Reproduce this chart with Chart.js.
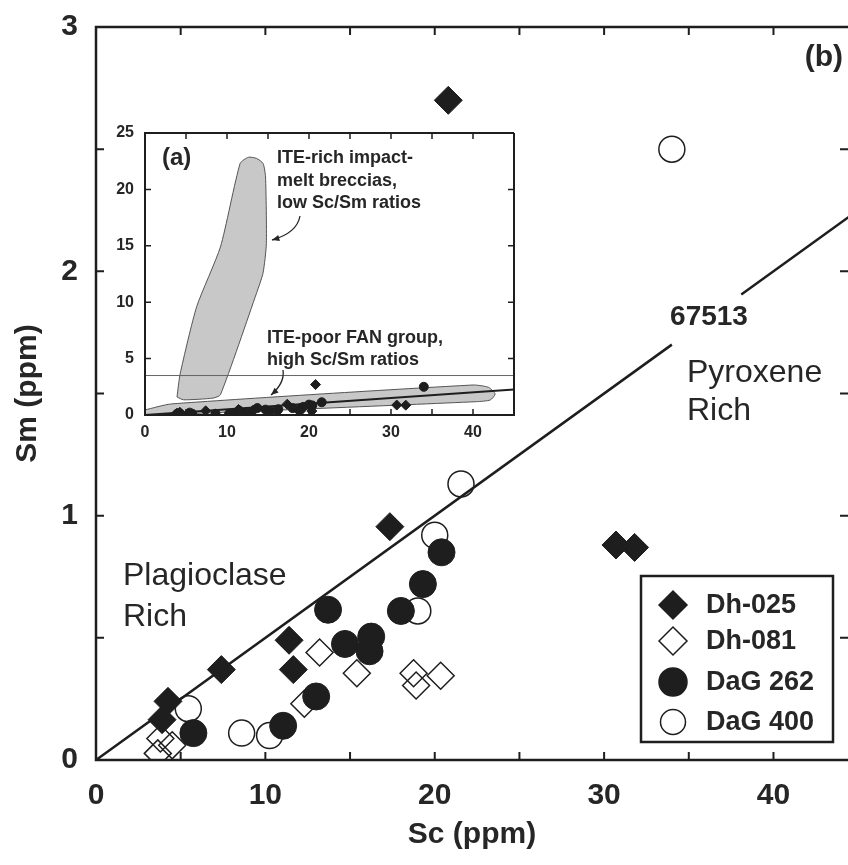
<!DOCTYPE html>
<html>
<head>
<meta charset="utf-8">
<script src="https://cdn.jsdelivr.net/npm/chart.js@4.4.1/dist/chart.umd.min.js"></script>
<style>
  html, body { margin: 0; padding: 0; background: #fff; }
  #wrap { position: relative; width: 848px; height: 865px; overflow: hidden; }
  #mainChart { position: absolute; left: 0; top: 0; }
  #insetChart { position: absolute; left: 106px; top: 120px; }
</style>
</head>
<body>
<div id="wrap">
  <canvas id="mainChart" width="848" height="865"></canvas>
  <canvas id="insetChart" width="416" height="328"></canvas>
</div>
<script>
'use strict'

// Sc and Sm (ppm)
const dh025Sc = [20.8, 17.35, 11.4, 11.65, 7.4, 4.25, 3.9, 30.7, 31.8];
const dh025Sm = [2.70, 0.955, 0.49, 0.37, 0.37, 0.24, 0.165, 0.88, 0.87];

const dh081Sc = [13.2, 15.4, 18.75, 18.9, 20.35, 12.3, 3.8, 3.65, 4.5];
const dh081Sm = [0.44, 0.355, 0.355, 0.305, 0.345, 0.23, 0.088, 0.027, 0.06];

const dag262Sc = [20.4, 19.3, 18.0, 13.7, 14.7, 16.25, 16.15, 13.0, 11.05, 5.75];
const dag262Sm = [0.85, 0.72, 0.61, 0.615, 0.475, 0.505, 0.445, 0.26, 0.14, 0.11];

const dag400Sc = [34.0, 21.55, 20.0, 19.0, 5.45, 8.6, 10.25];
const dag400Sm = [2.50, 1.13, 0.92, 0.61, 0.21, 0.11, 0.10];

// 67513 reference line (Sc/Sm = 20), broken where its label sits
const lineSc = [0, 34, 36, 38.1, 50];
const lineSm = [0, 1.7, NaN, 1.905, 2.5];

// inset (a): fields of the two groups
const iteRichSc = [3.9, 4.3, 6.3, 9.2, 11.6, 12.6, 13.6, 14.4, 14.7, 14.8, 14.4, 13.6, 9.2, 8.3, 4.7, 3.9];
const iteRichSm = [1.6, 3.7, 9.6, 14.9, 22.3, 22.85, 22.75, 22.3, 21.1, 15.2, 12.6, 10.8, 1.8, 1.5, 1.35, 1.6];
const itePoorSc = [0, 3.2, 40.0, 41.9, 42.7, 42.1, 40.4, 0, 0];
const itePoorSm = [0.45, 0.98, 2.66, 2.45, 1.86, 1.33, 1.18, 0, 0.45];
const insetLineSc = [0, 45];
const insetLineSm = [0, 2.25];
const panelBLimitSc = [0, 45];
const panelBLimitSm = [3.5, 3.5];

// ticks
const xTicks = [0, 5, 10, 15, 20, 25, 30, 35, 40];
const xTickLabels = [0, 10, 20, 30, 40];
const yTicks = [0, 0.5, 1, 1.5, 2, 2.5, 3];
const yTickLabels = [0, 1, 2, 3];
const insetXTicks = [0, 5, 10, 15, 20, 25, 30, 35, 40, 45];
const insetXTickLabels = [0, 10, 20, 30, 40];
const insetYTicks = [0, 5, 10, 15, 20, 25];

const FONT = 'Arial, "Liberation Sans", Helvetica, sans-serif';
const INK = '#1e1e1e';
const TEXT = '#262626';

const toPoints = (xs, ys) => xs.map((x, i) => ({ x: x, y: ys[i] }));

// keep the plot box where the figure has it
function fixX(h) {
  return s => { s.height = h; s.paddingLeft = 0; s.paddingRight = 0; };
}
function fixY(w) {
  return s => { s.width = w; s.paddingTop = 0; s.paddingBottom = 0; };
}

function drawFrame(chart, lw, len, withRight) {
  const ctx = chart.ctx;
  const a = chart.chartArea;
  const x = chart.scales.x, y = chart.scales.y;
  ctx.save();
  ctx.strokeStyle = INK;
  ctx.lineWidth = lw;
  ctx.beginPath();
  ctx.moveTo(a.right, a.top);
  ctx.lineTo(a.left, a.top);
  ctx.lineTo(a.left, a.bottom);
  ctx.lineTo(a.right, a.bottom);
  if (withRight) ctx.lineTo(a.right, a.top);
  ctx.stroke();
  ctx.lineWidth = Math.max(1, lw - 0.5);
  ctx.beginPath();
  x.ticks.forEach(t => {
    const px = x.getPixelForValue(t.value);
    ctx.moveTo(px, a.bottom); ctx.lineTo(px, a.bottom - len);
    ctx.moveTo(px, a.top); ctx.lineTo(px, a.top + len);
  });
  y.ticks.forEach(t => {
    const py = y.getPixelForValue(t.value);
    ctx.moveTo(a.left, py); ctx.lineTo(a.left + len, py);
    ctx.moveTo(a.right, py); ctx.lineTo(a.right - len, py);
  });
  ctx.stroke();
  ctx.restore();
}

function marker(ctx, style, cx, cy, r, filled) {
  ctx.beginPath();
  if (style === 'rectRot') {
    ctx.moveTo(cx - r, cy); ctx.lineTo(cx, cy - r); ctx.lineTo(cx + r, cy); ctx.lineTo(cx, cy + r);
    ctx.closePath();
  } else {
    ctx.arc(cx, cy, r, 0, Math.PI * 2);
  }
  if (filled) { ctx.fillStyle = INK; ctx.fill(); }
  ctx.strokeStyle = INK;
  ctx.lineWidth = 1.5;
  ctx.stroke();
}

function arrow(ctx, x0, y0, cx, cy, x1, y1) {
  ctx.beginPath();
  ctx.moveTo(x0, y0);
  ctx.quadraticCurveTo(cx, cy, x1, y1);
  ctx.stroke();
  const ang = Math.atan2(y1 - cy, x1 - cx);
  ctx.beginPath();
  ctx.moveTo(x1, y1);
  ctx.lineTo(x1 - 8 * Math.cos(ang - 0.4), y1 - 8 * Math.sin(ang - 0.4));
  ctx.lineTo(x1 - 8 * Math.cos(ang + 0.4), y1 - 8 * Math.sin(ang + 0.4));
  ctx.closePath();
  ctx.fill();
}

const mainDecor = {
  id: 'mainDecor',
  beforeDatasetsDraw(chart) {
    drawFrame(chart, 2.5, 8, false);
  },
  afterDatasetsDraw(chart) {
    const ctx = chart.ctx;
    ctx.save();
    ctx.fillStyle = TEXT;
    ctx.textBaseline = 'alphabetic';
    ctx.textAlign = 'left';
    ctx.font = '32px ' + FONT;
    ctx.fillText('Plagioclase', 123, 585);
    ctx.fillText('Rich', 123, 626);
    ctx.fillText('Pyroxene', 687, 382);
    ctx.fillText('Rich', 687, 420);
    ctx.font = 'bold 28px ' + FONT;
    ctx.textAlign = 'center';
    ctx.textBaseline = 'middle';
    ctx.fillText('67513', 709, 317);
    ctx.font = 'bold 30px ' + FONT;
    ctx.textAlign = 'right';
    ctx.fillText('(b)', 843, 58);
    ctx.restore();
  },
  afterDraw(chart) {
    // legend box
    const ctx = chart.ctx;
    const rows = [605, 641, 682, 722];
    ctx.save();
    ctx.fillStyle = '#fff';
    ctx.fillRect(641, 576, 192, 166);
    ctx.strokeStyle = INK;
    ctx.lineWidth = 2.5;
    ctx.strokeRect(641, 576, 192, 166);
    chart.data.datasets.slice(0, 4).forEach((ds, i) => {
      const filled = ds.backgroundColor === INK;
      const r = ds.pointStyle === 'rectRot' ? 14 : (filled ? 14 : 12.5);
      marker(ctx, ds.pointStyle, 673, rows[i], r, filled);
      ctx.fillStyle = TEXT;
      ctx.font = 'bold 27px ' + FONT;
      ctx.textAlign = 'left';
      ctx.textBaseline = 'middle';
      ctx.fillText(ds.label, 706, rows[i] + 1);
    });
    ctx.restore();
  }
};

const tickFont = { family: FONT, size: 30, weight: 'bold' };

new Chart(document.getElementById('mainChart'), {
  type: 'scatter',
  data: {
    datasets: [
      { label: 'Dh-025', data: toPoints(dh025Sc, dh025Sm), pointStyle: 'rectRot', pointRadius: 14,
        backgroundColor: INK, borderColor: INK, borderWidth: 1, order: 0 },
      { label: 'Dh-081', data: toPoints(dh081Sc, dh081Sm), pointStyle: 'rectRot', pointRadius: 13.5,
        backgroundColor: 'rgba(0,0,0,0)', borderColor: INK, borderWidth: 1.5, order: 2 },
      { label: 'DaG 262', data: toPoints(dag262Sc, dag262Sm), pointStyle: 'circle', pointRadius: 13.5,
        backgroundColor: INK, borderColor: INK, borderWidth: 1, order: 1 },
      { label: 'DaG 400', data: toPoints(dag400Sc, dag400Sm), pointStyle: 'circle', pointRadius: 13,
        backgroundColor: 'rgba(0,0,0,0)', borderColor: INK, borderWidth: 1.5, order: 3 },
      { label: '67513', type: 'line', data: toPoints(lineSc, lineSm), showLine: true, spanGaps: false,
        pointRadius: 0, borderColor: INK, borderWidth: 2.5, fill: false, order: 4 }
    ]
  },
  options: {
    responsive: false,
    animation: false,
    devicePixelRatio: 1,
    events: [],
    layout: { autoPadding: false, padding: { top: 27, right: 0, bottom: 0, left: 0 } },
    plugins: { legend: { display: false }, tooltip: { enabled: false } },
    scales: {
      x: {
        type: 'linear', min: 0, max: 44.4,
        afterBuildTicks: s => { s.ticks = xTicks.map(v => ({ value: v })); },
        afterFit: fixX(105),
        grid: { display: false, drawTicks: false },
        border: { display: false },
        ticks: {
          autoSkip: false, maxRotation: 0, padding: 18, color: TEXT, font: tickFont,
          callback: v => xTickLabels.includes(v) ? String(v) : ''
        },
        title: { display: true, text: 'Sc (ppm)', color: TEXT, font: tickFont, padding: { top: 0, bottom: 12 } }
      },
      y: {
        type: 'linear', min: 0, max: 3,
        afterBuildTicks: s => { s.ticks = yTicks.map(v => ({ value: v })); },
        afterFit: fixY(96),
        grid: { display: false, drawTicks: false },
        border: { display: false },
        ticks: {
          autoSkip: false, padding: 18, color: TEXT, font: tickFont,
          callback: v => yTickLabels.includes(v) ? String(v) : ''
        },
        title: { display: true, text: 'Sm (ppm)', color: TEXT, font: tickFont, padding: { top: 10, bottom: 0 } }
      }
    }
  },
  plugins: [mainDecor]
});

// ----- inset (a) -----
const insetDecor = {
  id: 'insetDecor',
  beforeDraw(chart) {
    const a = chart.chartArea;
    chart.ctx.save();
    chart.ctx.fillStyle = '#fff';
    chart.ctx.fillRect(a.left, a.top, a.right - a.left, a.bottom - a.top);
    chart.ctx.restore();
  },
  afterDatasetsDraw(chart) {
    drawFrame(chart, 2, 6, true);
    const ctx = chart.ctx;
    ctx.save();
    ctx.fillStyle = TEXT;
    ctx.strokeStyle = TEXT;
    ctx.lineWidth = 1.3;
    ctx.font = 'bold 24px ' + FONT;
    ctx.textAlign = 'left';
    ctx.textBaseline = 'middle';
    ctx.fillText('(a)', 56, 38);
    ctx.textBaseline = 'alphabetic';
    ctx.font = 'bold 18px ' + FONT;
    ctx.fillText('ITE-rich impact-', 171, 43);
    ctx.fillText('melt breccias,', 171, 66);
    ctx.fillText('low Sc/Sm ratios', 171, 88);
    ctx.fillText('ITE-poor FAN group,', 161, 223);
    ctx.fillText('high Sc/Sm ratios', 161, 245);
    arrow(ctx, 194, 96, 191, 113, 166, 120);
    arrow(ctx, 177, 250, 179, 263, 165, 275);
    ctx.restore();
  }
};

const insetTickFont = { family: FONT, size: 16, weight: 'bold' };

new Chart(document.getElementById('insetChart'), {
  type: 'scatter',
  data: {
    datasets: [
      { label: 'Dh-025', data: toPoints(dh025Sc, dh025Sm), pointStyle: 'rectRot', pointRadius: 5,
        backgroundColor: INK, borderColor: INK, borderWidth: 1, order: 0 },
      { label: 'Dh-081', data: toPoints(dh081Sc, dh081Sm), pointStyle: 'rectRot', pointRadius: 5,
        backgroundColor: INK, borderColor: INK, borderWidth: 1, order: 1 },
      { label: 'DaG 262', data: toPoints(dag262Sc, dag262Sm), pointStyle: 'circle', pointRadius: 4.5,
        backgroundColor: INK, borderColor: INK, borderWidth: 1, order: 2 },
      { label: 'DaG 400', data: toPoints(dag400Sc, dag400Sm), pointStyle: 'circle', pointRadius: 4.5,
        backgroundColor: INK, borderColor: INK, borderWidth: 1, order: 3 },
      { label: '67513', type: 'line', data: toPoints(insetLineSc, insetLineSm), showLine: true,
        pointRadius: 0, borderColor: INK, borderWidth: 2, fill: false, order: 4 },
      { label: 'panel (b) limit', type: 'line', data: toPoints(panelBLimitSc, panelBLimitSm), showLine: true,
        pointRadius: 0, borderColor: '#666', borderWidth: 1, fill: false, order: 5 },
      { label: 'ITE-poor FAN group', type: 'line', data: toPoints(itePoorSc, itePoorSm), showLine: true,
        pointRadius: 0, borderColor: '#555', borderWidth: 1, backgroundColor: '#c8c8c8', fill: 'shape',
        tension: 0.2, order: 6 },
      { label: 'ITE-rich impact-melt breccias', type: 'line', data: toPoints(iteRichSc, iteRichSm), showLine: true,
        pointRadius: 0, borderColor: '#555', borderWidth: 1, backgroundColor: '#c8c8c8', fill: 'shape',
        tension: 0.2, order: 7 }
    ]
  },
  options: {
    responsive: false,
    animation: false,
    devicePixelRatio: 1,
    events: [],
    layout: { autoPadding: false, padding: { top: 13, right: 8, bottom: 0, left: 0 } },
    plugins: { legend: { display: false }, tooltip: { enabled: false } },
    scales: {
      x: {
        type: 'linear', min: 0, max: 45,
        afterBuildTicks: s => { s.ticks = insetXTicks.map(v => ({ value: v })); },
        afterFit: fixX(33),
        grid: { display: false, drawTicks: false },
        border: { display: false },
        ticks: {
          autoSkip: false, maxRotation: 0, padding: 8, color: TEXT, font: insetTickFont,
          callback: v => insetXTickLabels.includes(v) ? String(v) : ''
        }
      },
      y: {
        type: 'linear', min: 0, max: 25,
        afterBuildTicks: s => { s.ticks = insetYTicks.map(v => ({ value: v })); },
        afterFit: fixY(39),
        grid: { display: false, drawTicks: false },
        border: { display: false },
        ticks: { autoSkip: false, padding: 11, color: TEXT, font: insetTickFont }
      }
    }
  },
  plugins: [insetDecor]
});
</script>
</body>
</html>
